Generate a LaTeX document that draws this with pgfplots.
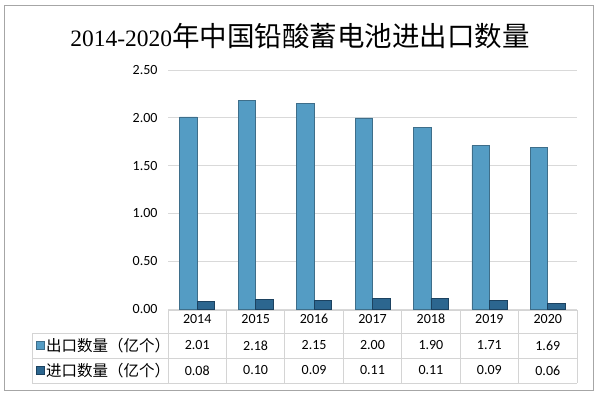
\documentclass[border=0pt]{standalone}
\usepackage{pgfplots}
\pgfplotsset{compat=1.18}
\usepackage{fontspec}
\setmainfont{Carlito}
\newfontfamily\cjk{Noto Sans CJK SC}
\newfontfamily\titleserif{Liberation Serif}
\definecolor{expF}{HTML}{549CC4}
\definecolor{expE}{HTML}{3E6E8A}
\definecolor{impF}{HTML}{2C668F}
\definecolor{impE}{HTML}{1C4260}
\definecolor{gridc}{HTML}{D9D9D9}
\definecolor{tabc}{HTML}{D4D4D4}
\pgfplotstableread{
x exp imp
0 2.01 0.08
1 2.18 0.10
2 2.15 0.09
3 2.00 0.11
4 1.90 0.11
5 1.71 0.09
6 1.69 0.06
}\datatable
\begin{document}
\begin{tikzpicture}[x=1bp,y=1bp]
% page and frame
\path[fill=white] (0,0) rectangle (600,395);
\draw[color=gray!70, line width=0.8bp] (4.5,5) rectangle (593.5,390);
% title
\node[anchor=center, inner sep=0] at (300,359)
  {\titleserif\fontsize{23.5bp}{27bp}\selectfont 2014-2020\cjk\fontsize{27.5bp}{31bp}\selectfont 年中国铅酸蓄电池进出口数量};
\begin{axis}[
  at={(168bp,86bp)}, anchor=south west,
  scale only axis, width=409bp, height=239bp,
  xmin=-0.5, xmax=6.5, ymin=0, ymax=2.5,
  ytick={0,0.5,1,1.5,2,2.5},
  yticklabel style={/pgf/number format/.cd, fixed, fixed zerofill, precision=2, /tikz/.cd, font=\fontsize{14bp}{16bp}\selectfont, xshift=-7bp},
  /pgf/number format/assume math mode=true,
  xtick={0,...,6},
  xticklabels={2014,2015,2016,2017,2018,2019,2020},
  xticklabel style={font=\fontsize{14bp}{16bp}\selectfont, anchor=center, yshift=-10bp},
  ymajorgrids, major grid style={color=gridc, line width=0.8bp},
  axis line style={draw=none},
  major tick length=0pt,
  ybar, bar width=17.5bp,
  clip=false,
]
\addplot[bar shift=-8.75bp, draw=expE, line width=0.6bp, fill=expF] table[x=x,y=exp] {\datatable};
\addplot[bar shift=8.75bp, draw=impE, line width=0.6bp, fill=impF] table[x=x,y=imp] {\datatable};
\end{axis}
% data table grid
\begin{scope}[color=tabc, line width=0.8bp]
\draw (168,85) -- (577,85);
\draw (32,62) -- (577,62);
\draw (32,37) -- (577,37);
\draw (32,12) -- (577,12);
\draw (32,62) -- (32,12);
\foreach \k in {0,...,7} {
  \draw ({168+58.43*\k},85) -- ({168+58.43*\k},12);
}
\end{scope}
% row labels
\fill[fill=expF, draw=expE, line width=0.4bp] (36.5,45.5) rectangle (44.5,53.5);
\node[anchor=west, inner sep=0] at (46,49.5) {\cjk\fontsize{15.5bp}{17bp}\selectfont 出口数量（亿个）};
\fill[fill=impF, draw=impE, line width=0.4bp] (36.5,20.5) rectangle (44.5,28.5);
\node[anchor=west, inner sep=0] at (46,24.5) {\cjk\fontsize{15.5bp}{17bp}\selectfont 进口数量（亿个）};
% values
\foreach \v [count=\i from 0] in {2.01,2.18,2.15,2.00,1.90,1.71,1.69} {
  \node[inner sep=0, font=\fontsize{14bp}{16bp}\selectfont] at ({197.2+58.43*\i},49.5) {\v};
}
\foreach \v [count=\i from 0] in {0.08,0.10,0.09,0.11,0.11,0.09,0.06} {
  \node[inner sep=0, font=\fontsize{14bp}{16bp}\selectfont] at ({197.2+58.43*\i},24.5) {\v};
}
\end{tikzpicture}
\end{document}
